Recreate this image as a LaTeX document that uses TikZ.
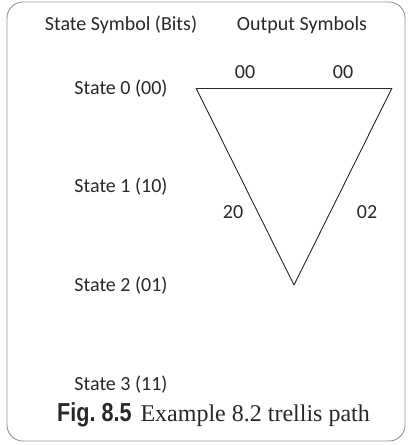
\documentclass[tikz,border=0pt]{standalone}
\usepackage{fontspec}
\setmainfont{Liberation Serif}
\newfontfamily\labfont{Carlito}
\newfontfamily\figfont[FakeStretch=0.83]{Liberation Sans}
\usetikzlibrary{positioning}
\definecolor{InkGray}{RGB}{40,40,40}
\definecolor{FrameGray}{RGB}{150,150,150}
\tikzset{statelab/.style={font={\labfont\fontsize{20bp}{24bp}\selectfont},text=InkGray,inner sep=0pt}, pathlab/.style={font={\labfont\fontsize{20bp}{24bp}\selectfont},text=InkGray,inner sep=0pt},trellis/.style={draw=InkGray,line width=0.9bp}}

\begin{document}
\begin{tikzpicture}[x=1bp,y=-1bp]
\useasboundingbox (0,0) rectangle (407,445);
\draw[draw=FrameGray,line width=0.9bp,rounded corners=16bp] (7,2) rectangle (405,441);
\node[statelab] (hstate) at (121,25) {State Symbol (Bits)};
\node[statelab] (hout) at (302,25) {Output Symbols};
\node[statelab] (st0) at (121,89) {State 0 (00)};
\node[statelab] (st1) at (121,187) {State 1 (10)};
\node[statelab] (st2) at (121,286) {State 2 (01)};
\node[statelab] (st3) at (121,385) {State 3 (11)};
\coordinate (t0s0) at (196,88);
\coordinate (t1s2) at (294,285);
\coordinate (t2s0) at (392,88);
\draw[trellis] (t0s0) -- (t2s0);
\draw[trellis] (t0s0) -- (t1s2);
\draw[trellis] (t1s2) -- (t2s0);
\node[pathlab] (out01) at (245,72) {00};
\node[pathlab] (out02) at (343,72) {00};
\node[pathlab] (out1) at (233,212) {20};
\node[pathlab] (out2) at (367,212) {02};
\node[anchor=base west,inner sep=0pt,text=InkGray,font=\fontsize{24bp}{28bp}\selectfont] (cap) at (57,421) {{\figfont\bfseries\fontsize{26bp}{30bp}\selectfont Fig.\ 8.5}\hspace{9bp}Example 8.2 trellis path};
\end{tikzpicture}
\end{document}
